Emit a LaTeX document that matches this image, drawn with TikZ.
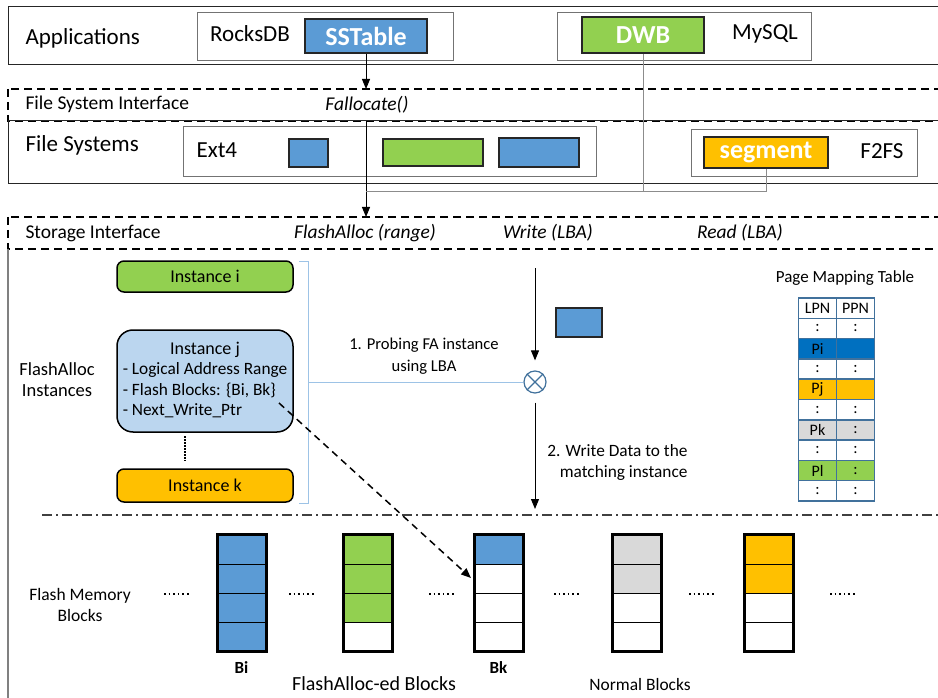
\documentclass[tikz,border=0pt]{standalone}
\usepackage{fontspec}
\setmainfont{Carlito}
\usetikzlibrary{arrows.meta,positioning}

\definecolor{fablue}{RGB}{91,155,213}
\definecolor{fagreen}{RGB}{146,208,80}
\definecolor{faorange}{RGB}{255,192,0}
\definecolor{fagray}{RGB}{217,217,217}
\definecolor{instblue}{RGB}{187,214,239}
\definecolor{pidark}{RGB}{0,112,192}
\definecolor{tblline}{RGB}{65,113,156}
\definecolor{brkblue}{RGB}{157,195,230}

\begin{document}
\begin{tikzpicture}[x=1pt,y=-1pt,font=\fontsize{18}{21}\selectfont,
  layerbox/.style={draw=black!85,line width=1pt},
  ifbox/.style={draw,line width=1.5pt,dash pattern=on 8pt off 5pt},
  appbox/.style={draw=black!55,line width=1pt,inner sep=0pt},
  databox/.style={draw=black!85,line width=1.6pt,inner sep=0pt,text=white,font=\fontsize{26}{30}\selectfont\bfseries},
  instbox/.style={draw,line width=1.5pt,minimum width=176pt,inner sep=0pt},
  arr/.style={-{Triangle[length=10pt,width=8pt]},line width=1pt},
  feedline/.style={draw=black!45,line width=1pt},
  brkline/.style={draw=brkblue,line width=1pt},
  tcell/.style={draw=tblline,line width=1.5pt,minimum width=38pt,minimum height=20.3pt,inner sep=0pt,font=\fontsize{16}{18}\selectfont},
  pagecell/.style={draw=black,line width=1.3pt,minimum width=49pt,minimum height=29.25pt,inner sep=0pt,outer sep=0pt},
  dotrow/.style={line width=1.6pt,dash pattern=on 1.6pt off 3pt},
  biglbl/.style={font=\fontsize{23}{27}\selectfont},
  iflbl/.style={font=\fontsize{19.5}{23}\selectfont},
]
\useasboundingbox (0,0) rectangle (938,698);
\clip (0,0) rectangle (938,698);

% layers
\draw[layerbox] (8,7) rectangle (950,65);
\draw[ifbox] (8,89) rectangle (950,121);
\draw[layerbox] (8,121) rectangle (950,184);
\draw[ifbox] (8,217) rectangle (950,249);
\draw[draw=black!50,line width=1.5pt] (8,249) -- (8,710);

% applications
\node[biglbl,anchor=west] (app) at (22,38) {Applications};
\node[appbox,minimum width=256pt,minimum height=48pt] (rocks) at (325,37) {};
\node[biglbl] (rockslbl) at (250,34) {RocksDB};
\node[databox,fill=fablue,minimum width=122pt,minimum height=34pt] (sst) at (366,36) {SSTable};
\node[appbox,minimum width=254pt,minimum height=48pt] (mysql) at (684,37) {};
\node[databox,fill=fagreen,minimum width=122pt,minimum height=36pt] (dwb) at (643,35) {DWB};
\node[biglbl] (mysqllbl) at (765,34) {MySQL};

% file system interface
\node[iflbl,anchor=west] (fsi) at (22,104) {File System Interface};
\node[iflbl] (falloc) at (367,105) {\itshape Fallocate()};

% file systems
\node[biglbl,anchor=west] (fs) at (22,145) {File Systems};
\node[appbox,minimum width=413pt,minimum height=50pt] (ext4) at (389.5,152) {};
\node[biglbl,anchor=west] (ext4lbl) at (193,150) {Ext4};
\node[databox,fill=fablue,minimum width=39pt,minimum height=28pt] (extA) at (308.5,153) {};
\node[databox,fill=fagreen,minimum width=100pt,minimum height=27pt] (extB) at (433,152.5) {};
\node[databox,fill=fablue,minimum width=80pt,minimum height=29pt] (extC) at (539,152.5) {};
\node[appbox,minimum width=226pt,minimum height=47pt] (f2fs) at (804,153.5) {};
\node[databox,fill=faorange,minimum width=124pt,minimum height=31pt] (seg) at (766,152.5) {segment};
\node[biglbl] (f2fslbl) at (882,151) {F2FS};

% paths down to the device
\coordinate (fsitop) at (366,89);
\coordinate (fsin) at (366,122);
\coordinate (sitop) at (366,217);
\coordinate (join) at (643,192);
\coordinate (fajoin) at (366,192);
\draw[arr] (sst.south) -- (fsitop);
\draw[arr] (fsin) -- (sitop);
\draw[feedline] (dwb.south) -- (join) -- (fajoin);
\draw[feedline] (seg.south) |- (join);

% storage interface
\node[iflbl,anchor=west] (si) at (22,233) {Storage Interface};
\node[iflbl] (fa) at (365,233) {\itshape FlashAlloc (range)};
\node[iflbl] (wr) at (548,233) {\itshape Write (LBA)};
\node[iflbl] (rd) at (740,233) {\itshape Read (LBA)};

% instances
\node[align=center,font=\fontsize{18.5}{21}\selectfont] (fainst) at (57,380) {FlashAlloc\\Instances};
\node[instbox,fill=fagreen,rounded corners=7pt,minimum height=31pt] (insti) at (205,276.5) {Instance i};
\node[instbox,fill=instblue,rounded corners=16pt,minimum height=102pt,font=\fontsize{17.3}{20.5}\selectfont] (instj) at (205,381)
  {\begin{tabular}{@{}l@{}}\multicolumn{1}{c}{\fontsize{18}{20.5}\selectfont Instance j}\\- Logical Address Range\\- Flash Blocks: \{Bi, Bk\}\\- Next\_Write\_Ptr\end{tabular}};
\node[instbox,fill=faorange,rounded corners=7pt,minimum height=33pt] (instk) at (205,485.5) {Instance k};
\draw[line width=2pt,dash pattern=on 1.5pt off 1.5pt] (185,436) -- (185,461);

\coordinate (brmid) at (308,382);
\draw[brkline] (299,261) -| (308,503) -- (299,503);
\node[circle,draw=tblline,line width=1.2pt,minimum size=22pt,inner sep=0pt] (xop) at (535,382) {};
\draw[tblline,line width=1.2pt] (xop.45) -- (xop.225) (xop.135) -- (xop.315);
\draw[brkline] (brmid) -- (xop.west);
\node[align=center,font=\fontsize{16.6}{22}\selectfont] (probe) at (424,356) {1. Probing FA instance\\using LBA};

\coordinate (wrin) at (535,268);
\coordinate (wrout) at (535,509);
\draw[arr,shorten >=10pt] (wrin) -- (xop.north);
\draw[arr,shorten <=9pt] (xop.south) -- (wrout);
\node[databox,fill=fablue,minimum width=46pt,minimum height=29pt] (wpage) at (579,322.5) {};
\node[align=right,anchor=east,font=\fontsize{17.3}{21}\selectfont] (wdata) at (691,462) {2. Write Data to the\\matching instance};

% page mapping table
\node[font=\fontsize{17}{20}\selectfont] (pmt) at (845,278) {Page Mapping Table};
\foreach \r/\lpn/\ppn/\col in {1/LPN/PPN/white,2/:/:/white,3/Pi//pidark,4/:/:/white,5/Pj//faorange,
  6/:/:/white,7/Pk/:/fagray,8/:/:/white,9/Pl/:/fagreen,10/:/:/white}
{
  \node[tcell,fill=\col] (lpn\r) at (817.5,287.85+20.3*\r) {\lpn};
  \node[tcell,fill=\col] (ppn\r) at (855.5,287.85+20.3*\r) {\ppn};
}

% flash blocks
\draw[line width=1.5pt,black!75,dash pattern=on 10pt off 4pt on 2pt off 4pt] (42,515) -- (945,515);
\foreach \nm/\x/\a/\b/\c/\d in {bi/241.5/fablue/fablue/fablue/fablue,bg/367.5/fagreen/fagreen/fagreen/white,
  bk/498.5/fablue/white/white/white,bn/637/fagray/fagray/white/white,bo/768.5/faorange/faorange/white/white}
{
  \node[pagecell,fill=\a] (\nm-1) at (\x,549.6) {};
  \node[pagecell,fill=\b,below=0pt of \nm-1] (\nm-2) {};
  \node[pagecell,fill=\c,below=0pt of \nm-2] (\nm-3) {};
  \node[pagecell,fill=\d,below=0pt of \nm-3] (\nm-4) {};
  \draw[line width=3pt] (\nm-1.north west) rectangle (\nm-4.south east);
}
\foreach \x in {177,302,442,567,702,843}
  \draw[dotrow] (\x-13,594) -- (\x+13,594);

\coordinate (ptr) at (279,403);
\coordinate (bkin) at (471,578);
\draw[-{Triangle[length=10pt,width=8pt]},line width=1.5pt,dash pattern=on 7pt off 5pt] (ptr) -- (bkin);

\node[align=center,font=\fontsize{17.5}{21}\selectfont] (fmb) at (80,605) {Flash Memory\\Blocks};
\node[font=\fontsize{17}{20}\selectfont\bfseries,below=6pt of bi-4] (bilbl) {Bi};
\node[font=\fontsize{17}{20}\selectfont\bfseries,below=6pt of bk-4] (bklbl) {Bk};
\node[font=\fontsize{20}{24}\selectfont] (fablk) at (374,684) {FlashAlloc-ed Blocks};
\node[font=\fontsize{17.4}{21}\selectfont] (nblk) at (640,685) {Normal Blocks};

\end{tikzpicture}
\end{document}
